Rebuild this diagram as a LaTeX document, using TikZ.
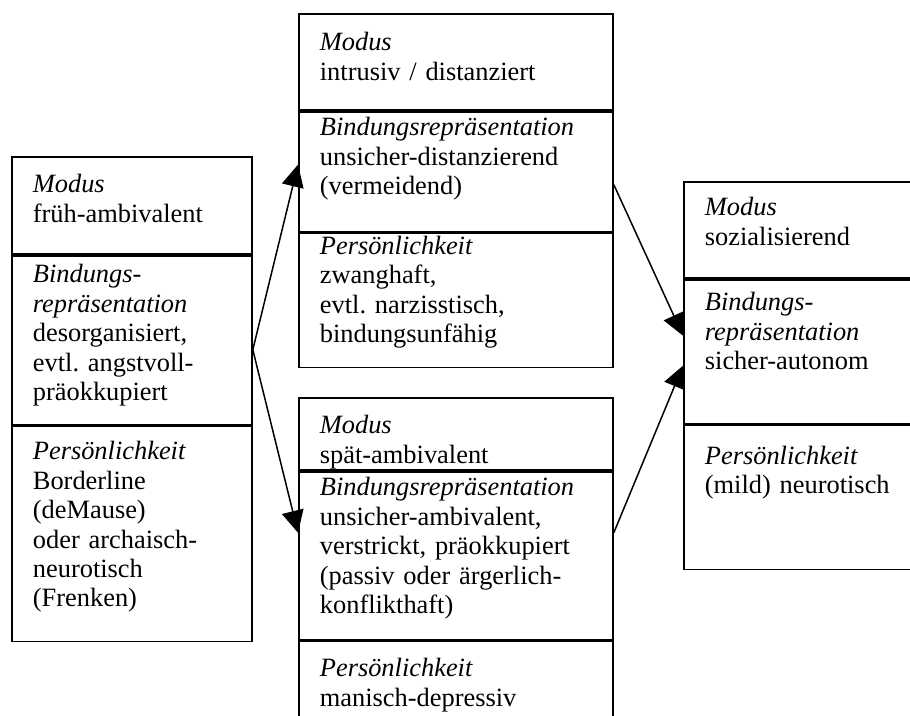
\documentclass[tikz,border=0pt]{standalone}
\usepackage{fontspec}
\setmainfont{Liberation Serif}
\usetikzlibrary{arrows.meta,positioning}
\frenchspacing

\begin{document}
\begin{tikzpicture}[x=0.5pt,y=-0.5pt,
    every node/.style={font=\fontsize{13.2}{14.75}\selectfont},
    cell/.style n args={3}{draw, line width=0.9pt, rectangle, anchor=north west, align=left,
      inner xsep=10.5pt, inner ysep=0pt, text width=#1, text height=#2, text depth=#3},
    link/.style={line width=0.75pt, -{Triangle[length=11pt,width=11pt]}}]
    \clip (0,0) rectangle (910,716);
    % left box
    \node [cell={99pt}{18pt}{30.5pt}] (lmod) at (11,156) {\textit{Modus}\\früh-ambivalent};
    \node [cell={99pt}{13.5pt}{71pt}, below=0pt of lmod] (lbin)
      {\textit{Bindungs-}\\\textit{repräsentation}\\desorganisiert,\\evtl. angstvoll-\\präokkupiert};
    \node [cell={99pt}{16.5pt}{91pt}, below=0pt of lbin] (lper)
      {\textit{Persönlichkeit}\\Borderline\\(deMause)\\oder archaisch-\\neurotisch\\(Frenken)};
    % upper middle box
    \node [cell={136pt}{18.5pt}{29.5pt}] (tmod) at (298,13) {\textit{Modus}\\intrusiv / distanziert};
    \node [cell={136pt}{12pt}{48pt}, below=0pt of tmod] (tbin)
      {\textit{Bindungsrepräsentation}\\unsicher-distanzierend\\(vermeidend)};
    \node [cell={136pt}{10.5pt}{56.5pt}, below=0pt of tbin] (tper)
      {\textit{Persönlichkeit}\\zwanghaft,\\evtl. narzisstisch,\\bindungsunfähig};
    % lower middle box
    \node [cell={136pt}{18pt}{18pt}] (bmod) at (298,397) {\textit{Modus}\\spät-ambivalent};
    \node [cell={136pt}{12pt}{72pt}, below=0pt of bmod] (bbin)
      {\textit{Bindungsrepräsentation}\\unsicher-ambivalent,\\verstrickt, präokkupiert\\(passiv oder ärgerlich-\\konflikthaft)};
    \node [cell={136pt}{17.5pt}{32.5pt}, below=0pt of bbin] (bper)
      {\textit{Persönlichkeit}\\manisch-depressiv};
    % right box
    \node [cell={109pt}{17pt}{31pt}] (rmod) at (683,181) {\textit{Modus}\\sozialisierend};
    \node [cell={109pt}{15.5pt}{56.5pt}, below=0pt of rmod] (rbin)
      {\textit{Bindungs-}\\\textit{repräsentation}\\sicher-autonom};
    \node [cell={109pt}{19.5pt}{52.5pt}, below=0pt of rbin] (rper)
      {\textit{Persönlichkeit}\\(mild) neurotisch};
    % arrows
    \draw [link] ([yshift=-4.75pt]lbin.east) -- ([yshift=3.5pt]tbin.west);
    \draw [link] ([yshift=-4.75pt]lbin.east) -- ([yshift=11.5pt]bbin.west);
    \draw [link] ([yshift=-6.5pt]tbin.east) -- ([yshift=8pt]rbin.west);
    \draw [link] ([yshift=11.5pt]bbin.east) -- ([yshift=-7pt]rbin.west);
\end{tikzpicture}
\end{document}
